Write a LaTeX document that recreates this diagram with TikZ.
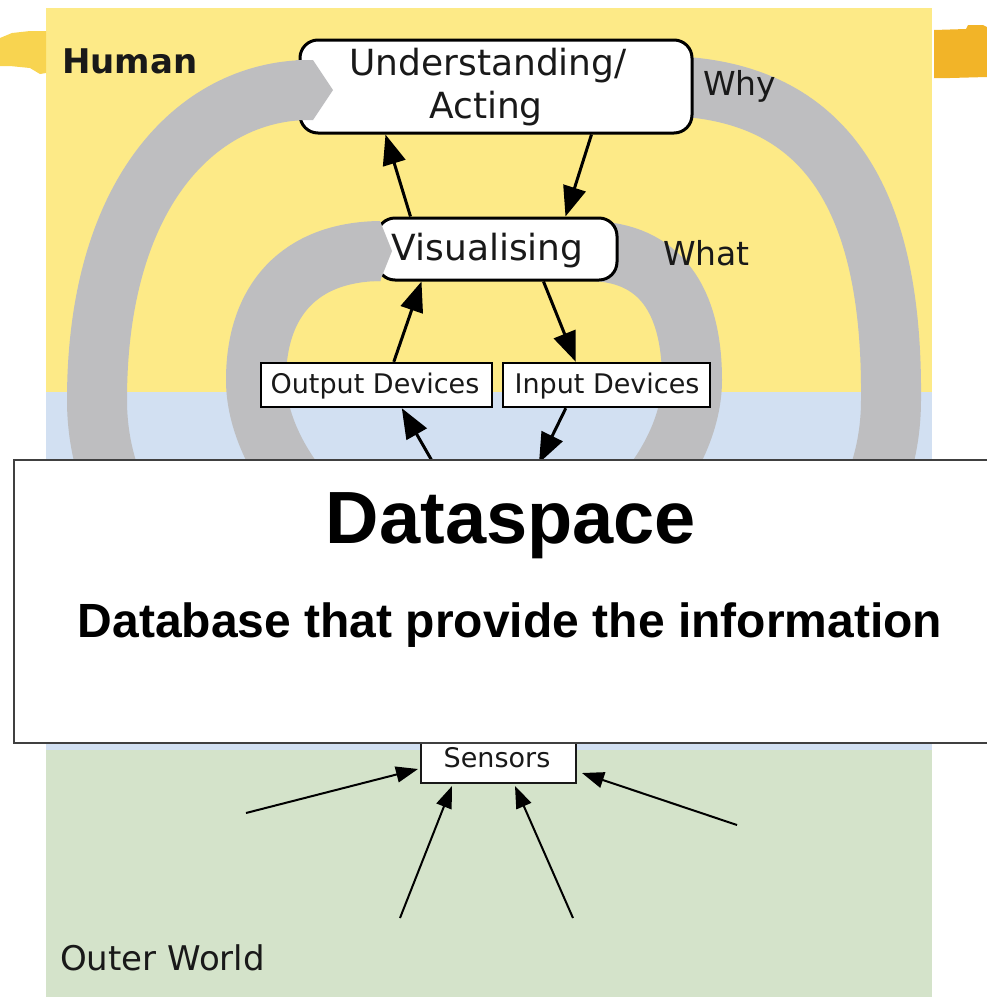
\documentclass[tikz,border=0pt]{standalone}
\usepackage{fontspec}
\setmainfont{DejaVu Sans}
\newfontfamily\headfont{Liberation Sans}
\usetikzlibrary{arrows.meta,calc}

\definecolor{humanyellow}{RGB}{253,234,135}
\definecolor{dataspaceblue}{RGB}{210,224,242}
\definecolor{worldgreen}{RGB}{212,227,202}
\definecolor{loopgray}{RGB}{190,190,192}
\definecolor{flagyellow}{RGB}{248,212,80}
\definecolor{flagorange}{RGB}{242,180,40}
\definecolor{ink}{RGB}{25,25,25}

\begin{document}
\begin{tikzpicture}[x=1pt,y=-1pt,
  roundbox/.style={draw=black, fill=white, line width=3pt, rounded corners=18pt, inner sep=0pt},
  devbox/.style={draw=black, fill=white, line width=2.4pt, inner sep=0pt},
  sensbox/.style={draw=ink, fill=white, line width=2pt, inner sep=0pt},
  lbl/.style={inner sep=0pt, anchor=base, text=ink},
  bigfont/.style={font=\fontsize{36}{43}\selectfont},
  smallfont/.style={font=\fontsize{27}{32}\selectfont},
  tagfont/.style={font=\fontsize{33}{40}\selectfont},
  loopband/.style={draw=loopgray, line width=60pt},
  flow/.style={draw=black, line width=3pt, -{Triangle[length=30pt,width=23pt]}},
  feed/.style={draw=black, line width=2pt, -{Triangle[length=22pt,width=16pt]}},
]
\useasboundingbox (0,0) rectangle (987,997);

% layered background
\fill[humanyellow] (46,8) rectangle (932,392);
\fill[dataspaceblue] (46,392) rectangle (932,750);
\fill[worldgreen] (46,750) rectangle (932,997);

% brush marks at the sides
\fill[flagyellow] (0,38) -- (12,33) -- (30,31) -- (46,31) -- (46,73) -- (40,74)
  -- (30,68) -- (10,66) -- (0,66) -- cycle;
\fill[flagorange] (934,30) -- (966,29) -- (968,25) -- (983,25) -- (987,27)
  -- (987,77) -- (950,78) -- (934,78) -- cycle;

% outer loop (Why)
\draw[loopband] (650,86) .. controls (820,82) and (893,190) .. (891,400)
  .. controls (891,560) and (740,680) .. (494,680)
  .. controls (250,680) and (97,560) .. (97,400)
  .. controls (97,190) and (200,88) .. (313,90);

% inner loop (What)
\draw[loopband] (590,251) .. controls (660,252) and (692,300) .. (692,380)
  .. controls (692,470) and (590,580) .. (474,585)
  .. controls (360,580) and (256,470) .. (256,380)
  .. controls (256,300) and (300,252) .. (380,251);

% boxes
\node[roundbox, minimum width=392pt, minimum height=93pt] (und) at (496,86.5) {};
\node[roundbox, minimum width=240pt, minimum height=62pt] (vis) at (497,249) {};
\node[devbox, minimum width=231pt, minimum height=44pt] (out) at (376.5,385) {};
\node[devbox, minimum width=207pt, minimum height=44pt] (in) at (606.5,385) {};

% loop heads entering the boxes
\fill[loopgray] (296,60) -- (313,60) -- (333,90) -- (313,120) -- (296,120) -- cycle;
\fill[loopgray] (373,221) -- (380,221) -- (392,251) -- (380,281) -- (373,281) -- cycle;

% box labels
\node[lbl, bigfont] (undA) at (488,75) {Understanding/};
\node[lbl, bigfont] (undB) at (486,118) {Acting};
\node[lbl, bigfont] (vislbl) at (487.5,260) {Visualising};
\node[lbl, smallfont] (outlbl) at (375,393) {Output Devices};
\node[lbl, smallfont] (inlbl) at (607,393) {Input Devices};

% region and loop tags
\node[lbl, anchor=base west, font=\bfseries\fontsize{34}{40}\selectfont] (human) at (62,73) {Human};
\node[lbl, anchor=base west, tagfont] (why) at (703,95) {Why};
\node[lbl, anchor=base west, tagfont] (what) at (663,265) {What};

% flow between the human-side boxes
\draw[flow] ($(vis.north west)+(35,0)$) -- ($(und.south west)+(87,0)$);
\draw[flow] ($(und.south west)+(293,0)$) -- ($(vis.north west)+(190,0)$);
\draw[flow] ($(out.north west)+(134,0)$) -- ($(vis.south west)+(46,0)$);
\draw[flow] ($(vis.south west)+(168,0)$) -- ($(in.north west)+(74,0)$);

% links down to the dataspace
\coordinate (dsout) at (443,480);
\coordinate (dsin) at (539,463);
\draw[flow] (dsout) -- ($(out.south west)+(142,0)$);
\draw[flow] ($(in.south west)+(64,0)$) -- (dsin);

% sensors and their inputs from the outer world
\node[sensbox, minimum width=155pt, minimum height=54pt] (sen) at (498.5,756) {};
\node[lbl, smallfont] (senlbl) at (497,767) {Sensors};
\coordinate (w1) at (246,813);
\coordinate (w2) at (400,918);
\coordinate (w3) at (573,918);
\coordinate (w4) at (737,825);
\draw[feed] (w1) -- ($(sen.south west)+(-2,-15)$);
\draw[feed] (w2) -- ($(sen.south west)+(32,2)$);
\draw[feed] (w3) -- ($(sen.south west)+(95,2)$);
\draw[feed] (w4) -- ($(sen.south east)+(5,-11)$);

\node[lbl, anchor=base west, font=\fontsize{34}{40}\selectfont] (world) at (60,970) {Outer World};

% dataspace panel
\draw[draw=black!75, fill=white, line width=1.5pt] (14,460) rectangle (1012,743);
\node[anchor=base, inner sep=0pt, font=\headfont\bfseries\fontsize{74}{80}\selectfont] (dstitle) at (511,543) {Dataspace};
\node[anchor=base, inner sep=0pt, font=\headfont\bfseries\fontsize{48}{56}\selectfont] (dssub) at (510,637) {Database that provide the information};
\end{tikzpicture}
\end{document}
